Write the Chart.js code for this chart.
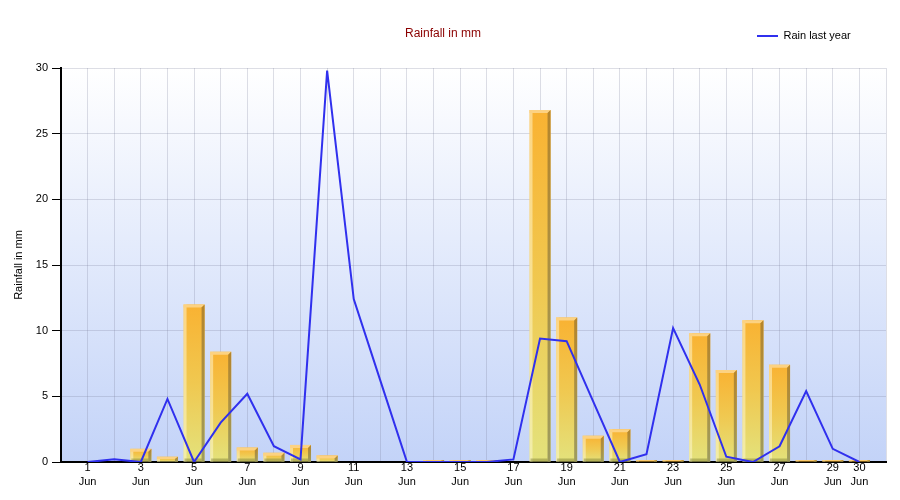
<!DOCTYPE html>
<html><head><meta charset="utf-8">
<script src="https://cdn.jsdelivr.net/npm/chart.js@4/dist/chart.umd.min.js"></script>
<style>html,body{margin:0;padding:0;background:#fff}#wrap{width:900px;height:500px}</style>
</head><body><div id="wrap"><canvas id="c" width="900" height="500"></canvas></div>
<script>
const categories = ['1 Jun','2 Jun','3 Jun','4 Jun','5 Jun','6 Jun','7 Jun','8 Jun','9 Jun','10 Jun',
  '11 Jun','12 Jun','13 Jun','14 Jun','15 Jun','16 Jun','17 Jun','18 Jun','19 Jun','20 Jun',
  '21 Jun','22 Jun','23 Jun','24 Jun','25 Jun','26 Jun','27 Jun','28 Jun','29 Jun','30 Jun'];
const tickLabelDays = [1,3,5,7,9,11,13,15,17,19,21,23,25,27,29,30];
const rainThisYear = [0,0,1.0,0.4,12.0,8.4,1.1,0.7,1.3,0.5,0,0,0,0.15,0.15,0.15,0,26.8,11.0,2.0,2.5,0.15,0.15,9.8,7.0,10.8,7.4,0.15,0.15,0.15];
const rainLastYear = [0,0.2,0,4.8,0,3.0,5.2,1.2,0.2,29.8,12.4,6.2,0,0,0,0,0.2,9.4,9.2,4.6,0,0.6,10.2,5.9,0.4,0,1.2,5.4,1.0,0];
const yTicks = [0,5,10,15,20,25,30];
const chartTitle = 'Rainfall in mm';
const yAxisTitle = 'Rainfall in mm';
const seriesNames = ['Rain this year','Rain last year'];

Chart.defaults.font.family = '"Liberation Sans", Arial, sans-serif';
Chart.defaults.color = '#000';

const labels = ['', ...categories, ''];
const barData = [null, ...rainThisYear, null];
const lineData = [null, ...rainLastYear, null];

const bgPlugin = {
  id: 'bgPlugin',
  beforeDraw(chart) {
    const {ctx, chartArea} = chart;
    ctx.save();
    ctx.fillStyle = '#fff';
    ctx.fillRect(0, 0, chart.width, chart.height);
    const g = ctx.createLinearGradient(0, chartArea.top, 0, chartArea.bottom);
    g.addColorStop(0, '#ffffff');
    g.addColorStop(1, '#c3d3f8');
    ctx.fillStyle = g;
    ctx.fillRect(chartArea.left, chartArea.top, chartArea.right - chartArea.left, chartArea.bottom - chartArea.top);
    ctx.restore();
  }
};

const legendPos = {
  id: 'legendPos',
  afterLayout(chart) {
    const lg = chart.legend;
    if (!lg || !lg.lineWidths) return;
    const h = lg.bottom - lg.top;
    lg.top = 25.5; lg.bottom = lg.top + h;
    lg.right = 757 + lg.lineWidths[0];
  }
};

const bar3d = {
  id: 'bar3d',
  afterDatasetDraw(chart, args) {
    if (args.index !== 0) return;
    const ctx = chart.ctx;
    args.meta.data.forEach(el => {
      const {x, y, base, width} = el.getProps(['x','y','base','width'], true);
      const h = base - y;
      if (!(h > 0.5)) return;
      const L = x - width / 2, R = x + width / 2;
      const d = Math.min(3, h / 2);
      ctx.save();
      ctx.fillStyle = 'rgba(255,250,215,0.5)';
      ctx.fillRect(L, y, 3, h);
      ctx.fillStyle = '#fcd282';
      ctx.beginPath();
      ctx.moveTo(L, y); ctx.lineTo(R, y); ctx.lineTo(R - 3, y + d); ctx.lineTo(L, y + d); ctx.closePath();
      ctx.fill();
      const g = ctx.createLinearGradient(0, y, 0, base);
      g.addColorStop(0, '#b5852c'); g.addColorStop(1, '#9e9c5e');
      ctx.fillStyle = g;
      ctx.beginPath();
      ctx.moveTo(R - 3, y + d); ctx.lineTo(R, y); ctx.lineTo(R, base); ctx.lineTo(R - 3, base); ctx.closePath();
      ctx.fill();
      if (h > 8) {
        ctx.fillStyle = 'rgba(110,110,40,0.4)';
        ctx.fillRect(L + 1, base - 3, width - 4, 3);
      }
      ctx.restore();
    });
  }
};

new Chart(document.getElementById('c'), {
  data: {
    labels: labels,
    datasets: [
      {
        type: 'bar',
        label: seriesNames[0],
        data: barData,
        order: 2,
        borderWidth: 0,
        categoryPercentage: 1,
        barPercentage: 0.79,
        backgroundColor: (c) => {
          const chart = c.chart;
          const {ctx, chartArea, scales} = chart;
          if (!chartArea || c.type !== 'data' || c.raw == null) return '#f5b335';
          const top = scales.y.getPixelForValue(c.raw);
          const bot = scales.y.getPixelForValue(0);
          if (!(bot - top > 2.5)) return '#f4b22e';
          const g = ctx.createLinearGradient(0, top, 0, bot);
          g.addColorStop(0, '#f9b232');
          g.addColorStop(0.5, '#f0c850');
          g.addColorStop(1, '#e3e27c');
          return g;
        }
      },
      {
        type: 'line',
        label: seriesNames[1],
        data: lineData,
        order: 1,
        borderColor: '#3030ee',
        backgroundColor: '#3030ee',
        borderWidth: 2,
        pointRadius: 0,
        tension: 0,
        fill: false
      }
    ]
  },
  options: {
    responsive: false,
    animation: false,
    layout: { padding: { left: 0, right: 14, top: 0, bottom: 0 } },
    plugins: {
      title: {
        display: true,
        text: chartTitle,
        color: '#8b0000',
        font: { size: 12, weight: 'normal', lineHeight: 1 },
        padding: { top: 28, bottom: 2 }
      },
      legend: {
        display: true,
        position: 'top',
        align: 'end',
        labels: {
          filter: (item) => item.datasetIndex === 1,
          usePointStyle: true,
          pointStyle: 'line',
          pointStyleWidth: 21,
          padding: 5,
          color: '#000',
          font: { size: 11 }
        }
      },
      tooltip: { enabled: false }
    },
    scales: {
      x: {
        type: 'category',
        offset: false,
        border: { color: '#000', width: 2 },
        grid: { color: 'rgba(120,125,150,0.25)', drawTicks: false, offset: false },
        ticks: {
          autoSkip: false,
          maxRotation: 0,
          padding: -1,
          color: '#000',
          font: { size: 11, lineHeight: '14px' },
          callback: (val, idx) => {
            const lab = labels[idx];
            if (!lab) return '';
            const parts = lab.split(' ');
            return tickLabelDays.includes(+parts[0]) ? parts : '';
          }
        },
        afterFit: (s) => { s.height = 38; }
      },
      y: {
        min: yTicks[0],
        max: yTicks[yTicks.length - 1],
        border: { color: '#000', width: 2 },
        grid: { color: 'rgba(120,125,150,0.25)', tickColor: '#000', tickLength: 9 },
        ticks: { stepSize: yTicks[1] - yTicks[0], padding: 4, color: '#000', font: { size: 11 } },
        title: { display: true, text: yAxisTitle, color: '#000', font: { size: 11 }, padding: { top: 12, bottom: 0 } },
        afterFit: (s) => { s.width = 61; }
      }
    }
  },
  plugins: [bgPlugin, legendPos, bar3d]
});
</script>
</body></html>
